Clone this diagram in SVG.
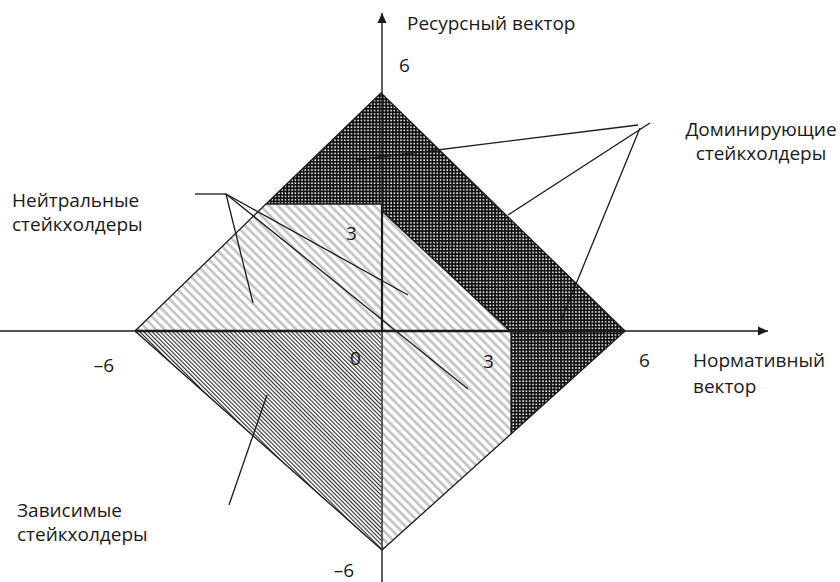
<svg xmlns="http://www.w3.org/2000/svg" width="840" height="582" viewBox="0 0 840 582">
  <style>
    .txt { font-family: "Open Sans", "Noto Sans", "DejaVu Sans", sans-serif; font-size: 19px; fill: #1a1a1a; }
    .edge { fill: none; stroke: #1a1a1a; stroke-width: 1.3; }
    .axis { fill: none; stroke: #1a1a1a; stroke-width: 1.4; }
    .leader { fill: none; stroke: #1a1a1a; stroke-width: 1.3; }
  </style>
  <defs>
    <!-- dense dotted fill: dominant zone -->
    <pattern id="dots" patternUnits="userSpaceOnUse" width="3.3" height="3.3">
      <rect width="3.3" height="3.3" fill="#111"/>
      <rect x="1" y="1" width="1.5" height="1.5" fill="#fff"/>
    </pattern>
    <!-- light grey diagonal stripes: neutral zones -->
    <pattern id="stripes" patternUnits="userSpaceOnUse" width="6.2" height="6.2" patternTransform="rotate(-45)">
      <rect width="6.2" height="6.2" fill="#fff"/>
      <rect width="2.8" height="6.2" fill="#c6c6c6"/>
    </pattern>
    <!-- fine dark diagonal hatch: dependent zone -->
    <pattern id="hatch" patternUnits="userSpaceOnUse" width="2.9" height="2.9" patternTransform="rotate(-45)">
      <rect width="2.9" height="2.9" fill="#fff"/>
      <rect width="1.1" height="2.9" fill="#2a2a2a"/>
    </pattern>
    <marker id="arrow" viewBox="0 0 10 10" refX="10" refY="5" markerWidth="10" markerHeight="10" markerUnits="userSpaceOnUse" orient="auto">
      <path d="M0,0.5 L10,5 L0,9.5 Z" fill="#1a1a1a"/>
    </marker>
  </defs>

  <!-- zones -->
  <g id="zone-dominant">
    <polygon points="381,93 625,331 511,434 511,331 510,331 383,212 383,204 266,204" fill="url(#dots)"/>
    <polyline class="edge" points="266,204 381,93 625,331 511,434"/>
  </g>
  <g id="zone-neutral-left">
    <polygon points="266,204 381,204 381,331 135,331" fill="url(#stripes)"/>
    <polyline class="edge" points="135,331 266,204 381,204"/>
  </g>
  <g id="zone-neutral-right">
    <polygon points="383,212 383,331 510,331" fill="url(#stripes)"/>
    <polygon points="382,331 511,331 511,434 382,550" fill="url(#stripes)"/>
    <polyline class="edge" points="383,212 510,331"/>
    <polyline class="edge" points="511,331 511,434 382,550"/>
  </g>
  <g id="zone-dependent">
    <polygon points="135,331 381,331 381,550" fill="url(#hatch)"/>
    <polyline class="edge" points="135,331 382,550"/>
  </g>

  <!-- axes -->
  <g id="axes">
    <line class="axis" x1="0" y1="331" x2="768" y2="331" marker-end="url(#arrow)"/>
    <line class="axis" x1="382" y1="582" x2="382" y2="13" marker-end="url(#arrow)"/>
    <line x1="135" y1="331" x2="625" y2="331" stroke="#1a1a1a" stroke-width="2.6"/>
    <line x1="382" y1="204" x2="382" y2="331" stroke="#1a1a1a" stroke-width="2.2"/>
  </g>

  <!-- leader lines -->
  <g id="connectors">
    <line class="leader" x1="638" y1="125" x2="357" y2="160"/>
    <line class="leader" x1="650" y1="123" x2="508" y2="215"/>
    <line class="leader" x1="640" y1="128" x2="560" y2="323"/>
    <line class="leader" x1="195" y1="194" x2="226" y2="194"/>
    <line class="leader" x1="226" y1="194" x2="253" y2="303"/>
    <line class="leader" x1="226" y1="194" x2="408" y2="295"/>
    <line class="leader" x1="226" y1="194" x2="468" y2="389"/>
    <line class="leader" x1="229" y1="505" x2="267" y2="395"/>
  </g>

  <!-- axis labels and ticks -->
  <g id="labels">
    <text class="txt" x="407" y="30">Ресурсный вектор</text>
    <text class="txt" x="399" y="72">6</text>
    <text class="txt" x="346" y="240">3</text>
    <text class="txt" x="350" y="365">0</text>
    <text class="txt" x="483" y="368">3</text>
    <text class="txt" x="639" y="367">6</text>
    <text class="txt" x="114" y="372" text-anchor="end">–6</text>
    <text class="txt" x="354" y="577" text-anchor="end">–6</text>
    <text class="txt" x="693" y="367">Нормативный</text>
    <text class="txt" x="693" y="393">вектор</text>
  </g>
  <g id="label-dominant">
    <text class="txt" x="761" y="136" text-anchor="middle">Доминирующие</text>
    <text class="txt" x="761" y="160" text-anchor="middle">стейкхолдеры</text>
  </g>
  <g id="label-neutral">
    <text class="txt" x="12" y="207">Нейтральные</text>
    <text class="txt" x="12" y="231">стейкхолдеры</text>
  </g>
  <g id="label-dependent">
    <text class="txt" x="17" y="517">Зависимые</text>
    <text class="txt" x="17" y="541">стейкхолдеры</text>
  </g>
</svg>
